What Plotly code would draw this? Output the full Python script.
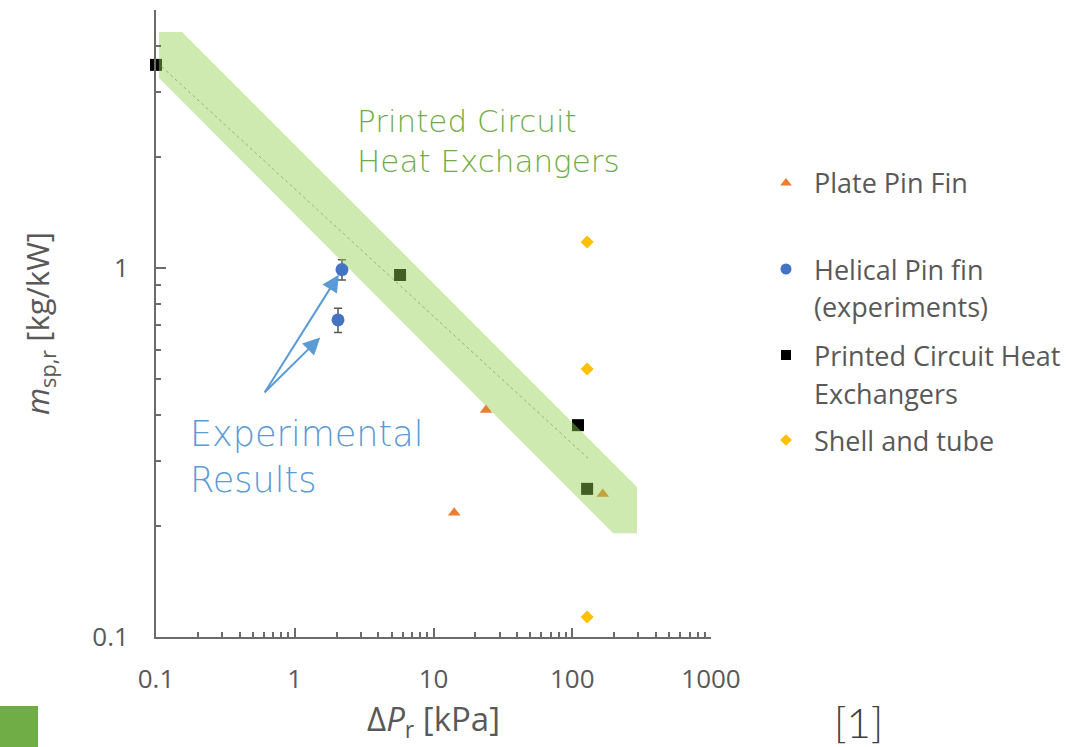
import math
import plotly.graph_objects as go

W, H = 1083, 747

# Plate pin fin heat exchangers
plate_dp = [23.9, 14.1, 166.0]
plate_m = [0.412, 0.217, 0.244]

# Helical pin fin (experiments) with error bars
helical_dp = [2.19, 2.05]
helical_m = [0.99, 0.723]
helical_err = [0.062, 0.055]

# Printed circuit heat exchangers
pche_dp = [0.1, 5.74, 110.0, 128.0]
pche_m = [3.55, 0.957, 0.375, 0.252]

# Shell and tube
shell_dp = [128.0, 128.0, 128.0]
shell_m = [1.176, 0.532, 0.1133]

# PCHE trend line and envelope band
trend_dp = [0.11, 130.0]
trend_m = [3.51, 0.305]
band_dp = [0.105, 0.154, 293.0, 293.0, 197.0, 0.105, 0.105]
band_m = [4.36, 4.36, 0.255, 0.191, 0.191, 3.27, 4.36]

x_ticks = [0.1, 1, 10, 100, 1000]
x_ticktext = ["0.1", "1", "10", "100", "1000"]
y_ticks = [0.1, 1]
y_ticktext = ["0.1", "1"]

# Legend entries: series name lines, marker style
legend_lines = ["Plate Pin Fin", "Helical Pin fin", "(experiments)",
                "Printed Circuit Heat", "Exchangers", "Shell and tube"]
legend_line_rows = [183, 269, 306, 355, 393, 440]
legend_key_rows = [183, 269, 355, 440]

C_ORANGE = "#ed7d31"
C_BLUE = "#4472c4"
C_BLACK = "#000000"
C_GOLD = "#ffc000"
C_GREEN_TXT = "#70ad47"
C_BLUE_TXT = "#5b9bd5"
C_AXIS = "#6b6b6b"
C_TEXT = "#595959"

FONT = "Open Sans"
FONT_NOTE = "DejaVu Sans"

PL, PR, PT, PB = 156, 711, 10, 637

fig = go.Figure()

fig.add_trace(go.Scatter(
    x=plate_dp, y=plate_m, mode="markers", name="Plate Pin Fin",
    marker=dict(symbol="triangle-up", size=11, color=C_ORANGE),
    showlegend=False))

fig.add_trace(go.Scatter(
    x=helical_dp, y=helical_m, mode="markers", name="Helical Pin fin (experiments)",
    marker=dict(symbol="circle", size=13, color=C_BLUE),
    error_y=dict(type="data", array=helical_err, color="#595959", thickness=1.5, width=4),
    showlegend=False))

fig.add_trace(go.Scatter(
    x=pche_dp, y=pche_m, mode="markers", name="Printed Circuit Heat Exchangers",
    marker=dict(symbol="square", size=12, color=C_BLACK),
    cliponaxis=False, showlegend=False))

fig.add_trace(go.Scatter(
    x=shell_dp, y=shell_m, mode="markers", name="Shell and tube",
    marker=dict(symbol="diamond", size=10, color=C_GOLD),
    showlegend=False))

fig.add_trace(go.Scatter(
    x=trend_dp, y=trend_m, mode="lines",
    line=dict(color="#9a9a9a", width=1, dash="dot"),
    hoverinfo="skip", showlegend=False))

# translucent envelope drawn over the markers
fig.add_trace(go.Scatter(
    x=band_dp, y=band_m, mode="lines", fill="toself",
    fillcolor="rgba(146,208,80,0.45)", line=dict(width=0),
    hoverinfo="skip", showlegend=False))

# legend keys in a small side subplot
key_styles = [("triangle-up", 10, C_ORANGE), ("circle", 11, C_BLUE),
              ("square", 10, C_BLACK), ("diamond", 9, C_GOLD)]
for (sym, sz, col), row in zip(key_styles, legend_key_rows):
    fig.add_trace(go.Scatter(
        x=[0], y=[row], mode="markers", xaxis="x2", yaxis="y2",
        marker=dict(symbol=sym, size=sz, color=col),
        hoverinfo="skip", showlegend=False))

axis_common = dict(
    type="log", showline=True, linecolor=C_AXIS, linewidth=1.8,
    showgrid=False, zeroline=False, ticks="inside", tickcolor=C_AXIS,
    tickwidth=1.5, mirror=False, automargin=False,
    tickfont=dict(family=FONT, size=26, color=C_TEXT),
    minor=dict(ticks="inside", ticklen=5, tickcolor=C_AXIS, tickwidth=1.5,
               dtick="D1", showgrid=False),
)

fig.update_layout(
    width=W, height=H, autosize=False,
    margin=dict(l=0, r=0, t=0, b=0, pad=0),
    paper_bgcolor="white", plot_bgcolor="white",
    showlegend=False,
    xaxis=dict(
        axis_common, domain=[PL / W, PR / W], range=[-1, 3],
        tickvals=x_ticks, ticktext=x_ticktext, ticklen=9,
        ticklabelstandoff=18,
        title=dict(text="Δ<i>P</i><sub>r</sub> [kPa]",
                   font=dict(family=FONT, size=33, color=C_TEXT), standoff=11),
    ),
    yaxis=dict(
        axis_common, domain=[1 - PB / H, 1 - PT / H], range=[-1, 0.69897],
        tickvals=y_ticks, ticktext=y_ticktext, ticklen=10,
        ticklabelstandoff=20,
        title=dict(text="<i>m</i><sub>sp,r</sub> [kg/kW]",
                   font=dict(family=FONT, size=31, color=C_TEXT), standoff=33),
    ),
    xaxis2=dict(domain=[771 / W, 801 / W], range=[-1, 1], visible=False,
                anchor="y2", fixedrange=True, automargin=False),
    yaxis2=dict(domain=[0, 1], range=[H, 0], visible=False,
                anchor="x2", fixedrange=True, automargin=False),
)

annotations = []

# legend text
for txt, row in zip(legend_lines, legend_line_rows):
    annotations.append(dict(
        xref="paper", yref="paper", x=812 / W, y=1 - row / H,
        xanchor="left", yanchor="middle", showarrow=False, text=txt,
        font=dict(family=FONT, size=27, color=C_TEXT)))

# band label
annotations.append(dict(
    xref="paper", yref="paper", x=355 / W, y=1 - 141 / H,
    xanchor="left", yanchor="middle", align="left", showarrow=False,
    text="Printed Circuit<br>Heat Exchangers",
    font=dict(family=FONT_NOTE, size=31, color=C_GREEN_TXT, weight=300)))

# experimental label
annotations.append(dict(
    xref="paper", yref="paper", x=188 / W, y=1 - 457 / H,
    xanchor="left", yanchor="middle", align="left", showarrow=False,
    text="Experimental<br>Results",
    font=dict(family=FONT_NOTE, size=35, color=C_BLUE_TXT, weight=300)))

# arrows from the label to the measured points (log axes take log10 positions)
arrow_offsets = [(-78, 124, 6), (-75, 74, 25)]
for xv, yv, (ax, ay, so) in zip(helical_dp, helical_m, arrow_offsets):
    annotations.append(dict(
        x=math.log10(xv), y=math.log10(yv), xref="x", yref="y",
        axref="pixel", ayref="pixel",
        ax=ax, ay=ay, text="", showarrow=True, arrowhead=2, arrowsize=1.7,
        arrowwidth=2, arrowcolor=C_BLUE_TXT, standoff=so))

# reference marker
annotations.append(dict(
    xref="paper", yref="paper", x=858 / W, y=1 - 722 / H,
    xanchor="center", yanchor="middle", showarrow=False, text="[1]",
    font=dict(family="Lato", size=42, color="#404040", weight=300)))

fig.update_layout(annotations=annotations)

# slide accent block
fig.add_shape(type="rect", xref="paper", yref="paper",
              x0=0, x1=38 / W, y0=0, y1=1 - 706 / H,
              fillcolor=C_GREEN_TXT, line=dict(width=0), layer="below")

fig.write_html("out.html")
